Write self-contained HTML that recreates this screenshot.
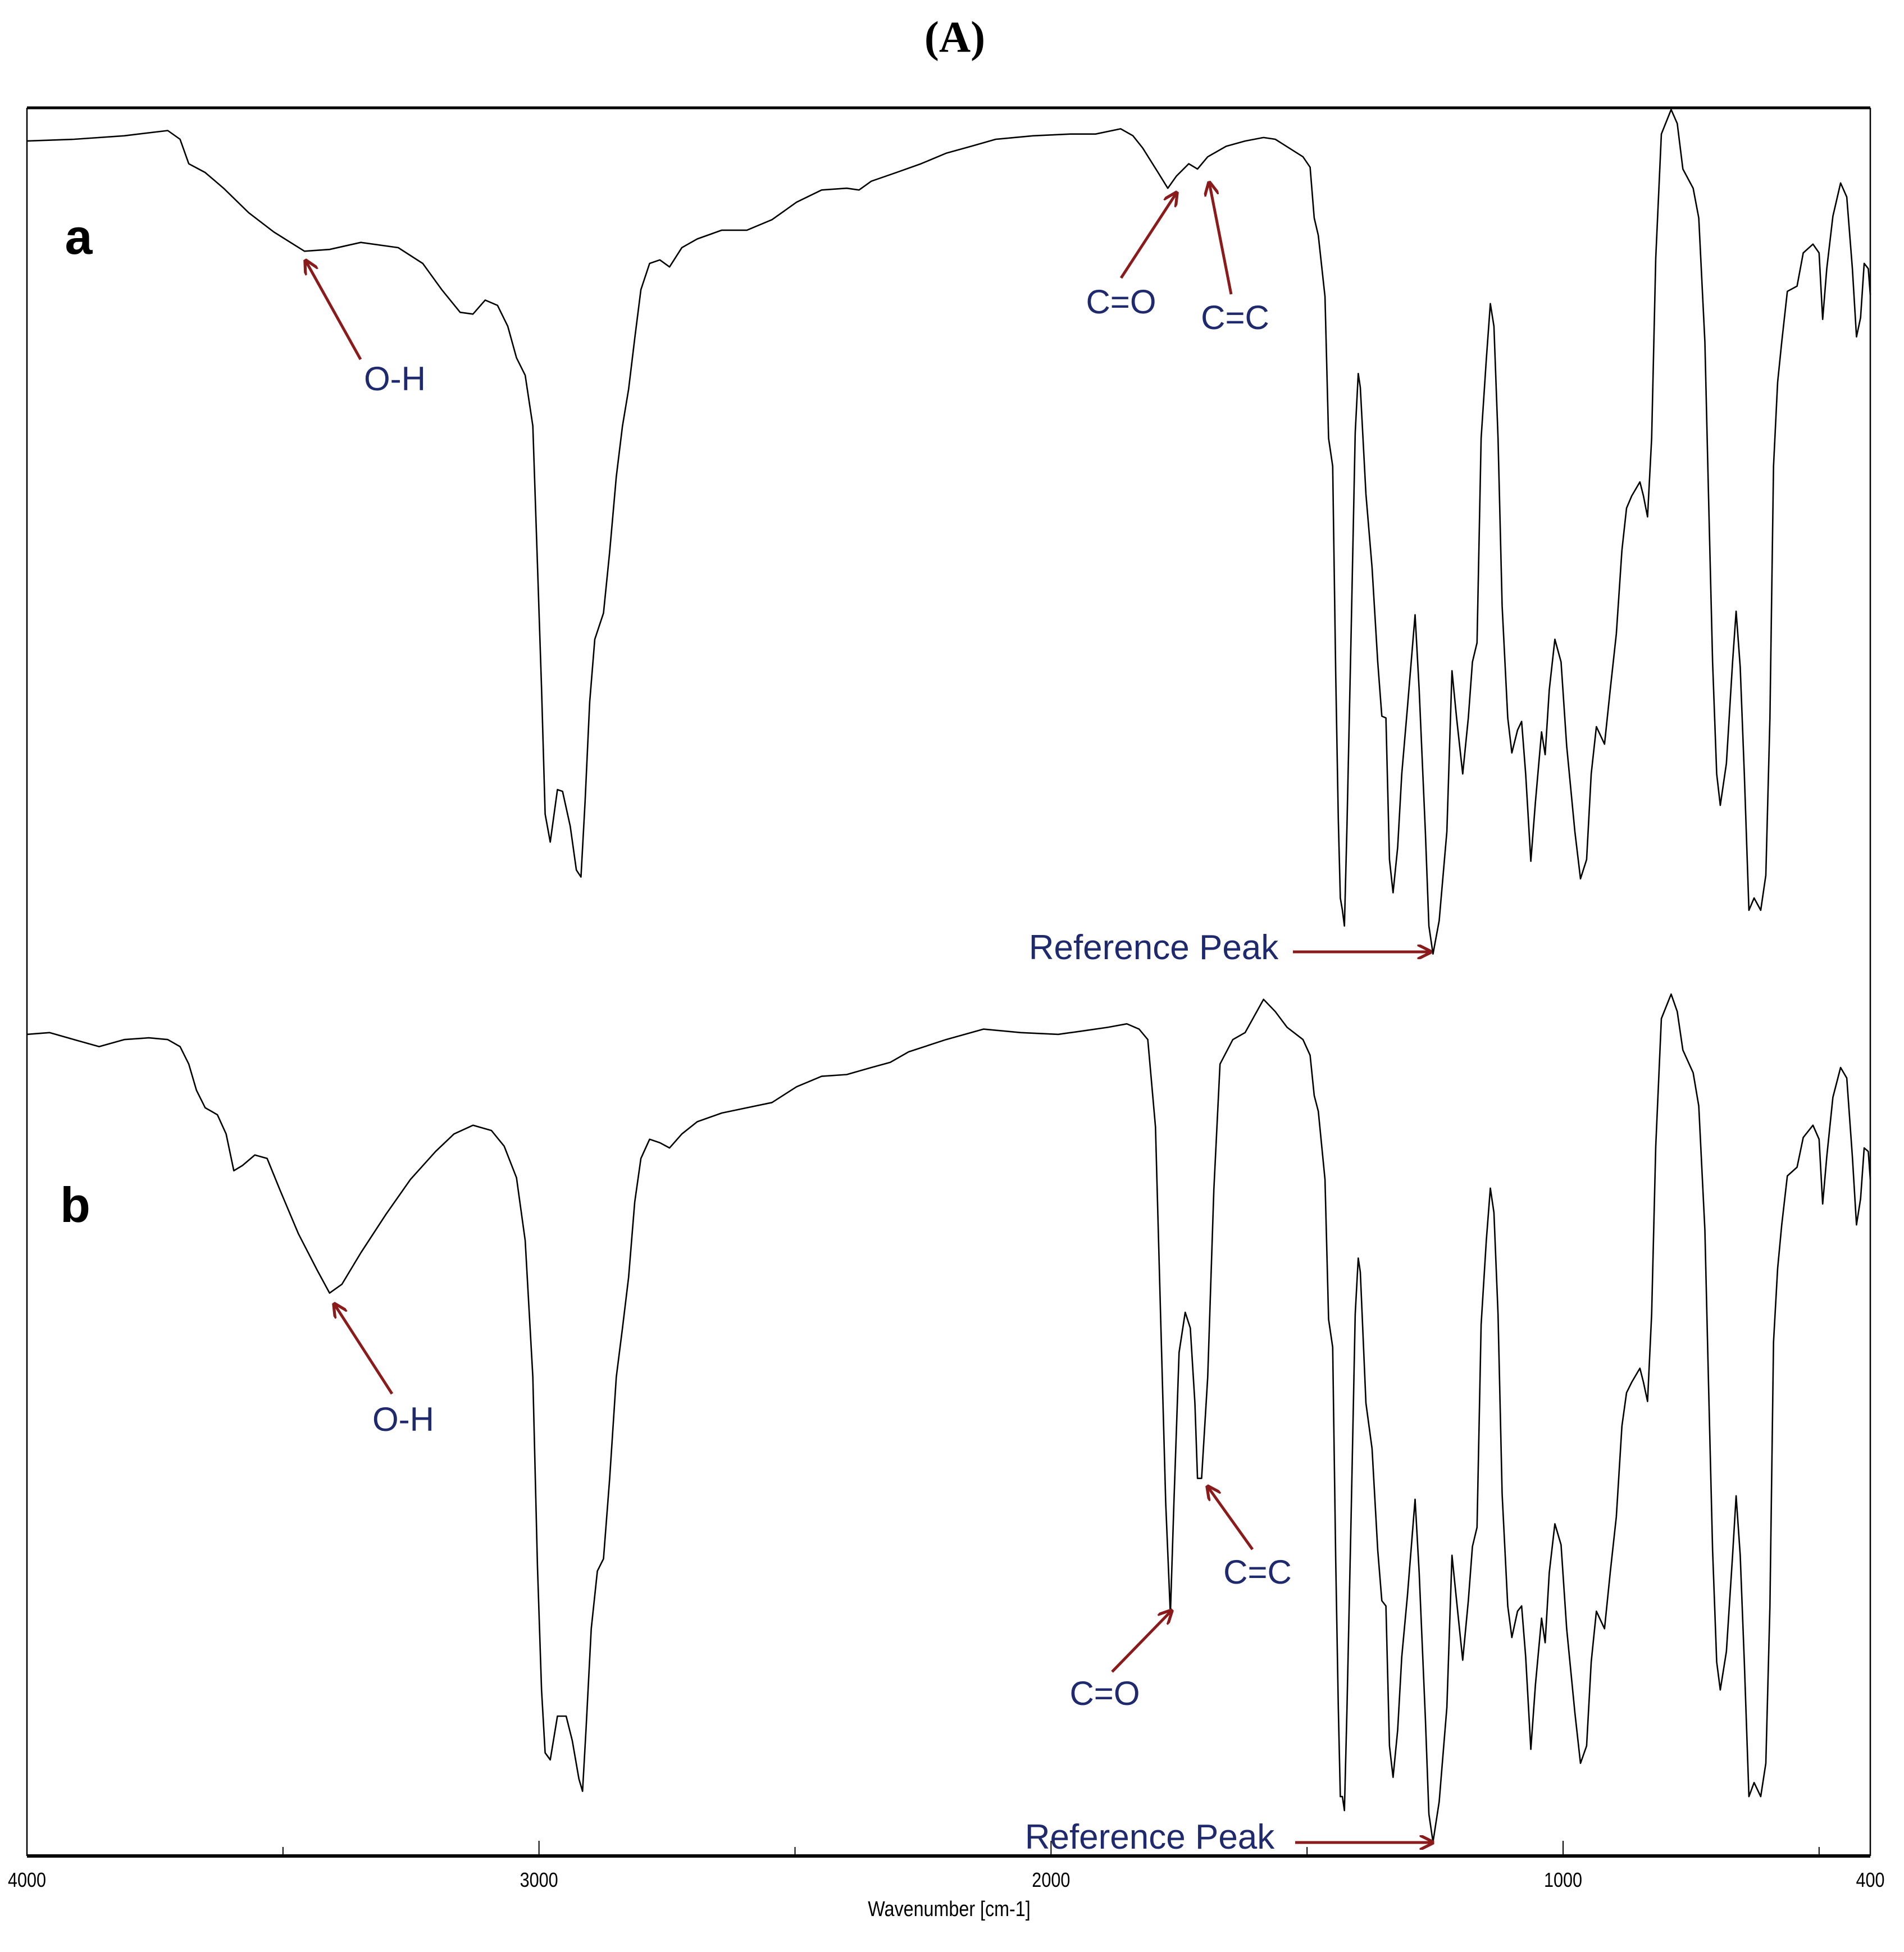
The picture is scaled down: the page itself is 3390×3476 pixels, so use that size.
<!DOCTYPE html>
<html><head><meta charset="utf-8"><style>
html,body{margin:0;padding:0;background:#fff}
svg{display:block}
</style></head><body>
<svg id="chart" width="3390" height="3476" viewBox="0 0 3390 3476" xmlns="http://www.w3.org/2000/svg">
<rect x="0" y="0" width="3390" height="3476" fill="#fff"/>
<text x="1700" y="92" text-anchor="middle" font-family="Liberation Serif, serif" font-weight="bold" font-size="78">(A)</text>
<g id="frame"></g>
<g id="series"></g>
<g id="annot"></g>
</svg>
<script>
const xTickValues=[4000,3500,3000,2500,2000,1500,1000,500];
const xTickLabels=["4000","3000","2000","1000","400"];
const xLabelValues=[4000,3000,2000,1000,400];
const wnA=[4000,3908,3810,3725,3701,3684,3652,3616,3567,3518,3458,3409,3348,3275,3227,3190,3154,3129,3105,3081,3061,3044,3027,3012,3003,2995,2988,2978,2964,2954,2939,2927,2918,2910,2901,2891,2874,2862,2849,2837,2825,2813,2801,2784,2764,2745,2721,2691,2643,2594,2545,2497,2448,2399,2375,2351,2302,2254,2205,2156,2108,2035,1962,1913,1864,1840,1821,1791,1772,1755,1731,1714,1694,1658,1621,
1585,1562,1508,1494,1486,1478,1465,1458,1450,1444,1439,1435,1431,1427,1422,1414,1406,1400,1396,1385,1373,1362,1354,1346,1339,1332,1323,1315,1304,1289,1281,1269,1262,1254,1242,1227,1217,1208,1196,1185,1177,1168,1160,1150,1142,1135,1127,1119,1108,1100,1089,1081,1073,1063,1054,1042,1035,1027,1016,1004,993,977,966,954,945,935,919,908,896,885,876,866,850,843,835,827,819,808,789,777,766,746,735,723,716,708,700,693,681,669,662,654,646,637,627,614,604,596,589,581,573,562,543,531,512,500,493,485,473,458,446,435,427,419,412,404,400];
const tA=[98.1,98.2,98.4,98.7,98.2,96.8,96.3,95.4,94.0,92.9,91.8,91.9,92.3,92.0,91.1,89.6,88.3,88.2,89.0,88.7,87.5,85.7,84.7,81.8,73.9,66.8,59.6,58.0,61.0,60.9,58.9,56.4,56.0,60.3,66.0,69.6,71.1,74.6,78.9,81.8,83.9,86.8,89.6,91.1,91.3,90.9,92.0,92.5,93.0,93.0,93.6,94.6,95.3,95.4,95.3,95.8,96.3,96.8,97.4,97.8,98.2,98.4,98.5,98.5,98.8,98.4,97.7,96.3,95.4,96.1,96.8,96.5,97.2,97.8,98.1,
98.3,98.2,97.2,96.6,93.7,92.7,89.2,81.1,79.5,67.6,59.3,54.8,54.1,53.2,59.0,69.9,81.4,84.8,84.0,77.9,73.7,68.3,65.2,65.1,57.0,55.1,57.7,61.9,65.7,71.0,66.7,58.6,53.2,51.6,53.5,58.6,67.8,65.1,61.9,65.1,68.3,69.4,81.1,85.6,88.8,87.5,81.1,71.5,65.1,63.1,64.4,64.9,61.9,56.9,60.3,64.3,63.0,66.7,69.6,68.3,63.5,58.6,55.9,57.0,61.9,64.6,63.6,66.7,69.9,74.7,77.1,77.8,78.6,77.8,76.6,81.1,91.4,98.5,99.9,99.1,96.5,95.4,93.7,86.6,77.9,68.3,61.9,60.1,62.5,68.3,71.2,68.0,61.9,54.1,54.8,54.1,56.1,65.1,79.5,84.3,86.6,89.5,89.8,91.7,92.2,91.7,87.9,90.8,93.8,95.7,94.9,90.8,86.9,88.0,91.1,90.8,89.3];
const wnB=[4000,3956,3908,3859,3810,3762,3725,3701,3684,3669,3652,3628,3611,3596,3579,3555,3531,3506,3470,3433,3409,3385,3348,3299,3251,3202,3166,3129,3093,3068,3044,3027,3012,3003,2995,2988,2978,2964,2947,2935,2922,2915,2908,2898,2886,2874,2862,2849,2837,2825,2813,2801,2784,2764,2745,2721,2691,2643,2594,2545,2497,2448,2399,2351,2314,2278,2205,2132,2059,1986,1937,1889,1852,1828,1811,1796,1786,1776,1767,1760,1750,1738,1728,1719,1714,1706,1694,1682,1670,1645,1621,
1585,1562,1539,1508,1494,1486,1478,1465,1458,1450,1444,1439,1435,1431,1427,1422,1414,1406,1400,1396,1385,1373,1362,1354,1346,1339,1332,1323,1315,1304,1289,1281,1269,1262,1254,1242,1227,1217,1208,1196,1185,1177,1168,1160,1150,1142,1135,1127,1119,1108,1100,1089,1081,1073,1063,1054,1042,1035,1027,1016,1004,993,977,966,954,945,935,919,908,896,885,876,866,850,843,835,827,819,808,789,777,766,746,735,723,716,708,700,693,681,669,662,654,646,637,627,614,604,596,589,581,573,562,543,531,512,500,493,485,473,458,446,435,427,419,412,404,400];
const tB=[47.0,47.1,46.7,46.3,46.7,46.8,46.7,46.3,45.3,43.8,42.8,42.4,41.3,39.2,39.5,40.1,39.9,38.1,35.6,33.5,32.2,32.7,34.5,36.7,38.7,40.3,41.3,41.8,41.5,40.6,38.8,35.2,27.4,16.6,9.5,5.9,5.5,8.0,8.0,6.6,4.4,3.7,7.3,13.0,16.3,17.0,21.6,27.4,30.2,33.1,37.4,39.9,41.0,40.8,40.5,41.3,42.0,42.5,42.8,43.1,44.0,44.6,44.7,45.1,45.4,46.0,46.7,47.3,47.1,47.0,47.2,47.4,47.6,47.3,46.7,41.7,30.9,20.2,13.8,20.2,28.8,31.1,30.2,25.9,21.6,21.6,27.4,38.1,45.3,46.7,47.1,
49.0,48.3,47.4,46.7,45.8,43.5,42.6,38.7,30.7,29.1,16.9,8.5,3.4,3.4,2.6,8.5,19.4,31.0,34.2,33.4,25.9,23.3,17.5,14.6,14.3,6.3,4.5,7.2,11.4,14.9,20.4,16.2,7.9,2.4,0.8,3.1,8.5,17.2,14.6,11.2,14.6,17.7,18.8,30.4,35.2,38.2,36.8,31.0,20.7,14.3,12.5,14.0,14.3,11.4,6.1,9.8,13.6,12.2,16.2,19.0,17.8,13.0,8.2,5.3,6.3,11.1,14.0,13.0,16.2,19.4,24.6,26.5,27.1,27.9,27.1,26.0,31.0,40.6,47.9,49.3,48.3,46.1,44.8,42.9,35.8,27.1,17.5,11.1,9.5,11.7,17.2,20.6,17.2,11.1,3.4,4.2,3.4,5.3,14.3,29.4,33.6,36.1,38.9,39.4,41.1,41.8,41.0,37.3,40.0,43.4,45.1,44.5,40.0,36.1,37.6,40.5,40.3,38.7];

const PL=48,PR=3330,PT=192,PB=3305;
function xs(w){return PL+(4000-w)/3600*(PR-PL);}
function ys(v){return PB-v/100*(PB-PT);}
const NS='http://www.w3.org/2000/svg';
function el(tag,attrs,parent){const e=document.createElementNS(NS,tag);for(const k in attrs)e.setAttribute(k,attrs[k]);parent.appendChild(e);return e;}
const frameG=document.getElementById('frame');
const seriesG=document.getElementById('series');
const annotG=document.getElementById('annot');

const topBorder=el('line',{x1:PL,y1:PT,x2:PR,y2:PT,stroke:'#000','stroke-width':5},frameG);


const leftBorder=el('line',{x1:PL,y1:PT,x2:PL,y2:PB,stroke:'#000','stroke-width':2.5},frameG);


const rightBorder=el('line',{x1:PR,y1:PT,x2:PR,y2:PB,stroke:'#000','stroke-width':2.5},frameG);


const xAxisLine=el('line',{x1:PL,y1:PB,x2:PR,y2:PB,stroke:'#000','stroke-width':6},frameG);


xTickValues.forEach(function(w){
  const major=(w%1000===0);
  const t=el('line',{x1:xs(w),y1:PB,x2:xs(w),y2:PB-(major?27:16),stroke:'#000','stroke-width':2},frameG);
  
  
});
xLabelValues.forEach(function(w,i){
  const cx=xs(w);
  const t=el('text',{x:cx,y:3360,'text-anchor':'middle','font-family':'Liberation Sans, sans-serif','font-size':36,transform:'translate('+cx+' 0) scale(0.85 1) translate('+(-cx)+' 0)'},frameG);
  t.textContent=xTickLabels[i];
  
  
});
const xTitle=el('text',{x:1690,y:3412,'text-anchor':'middle','font-family':'Liberation Sans, sans-serif','font-size':38,transform:'translate(1690 0) scale(0.85 1) translate(-1690 0)'},frameG);
xTitle.textContent='Wavenumber [cm-1]';



function pathD(w,t){return w.map(function(v,i){return (i?'L':'M')+xs(v).toFixed(1)+' '+ys(t[i]).toFixed(1);}).join(' ');}
const pa=el('path',{d:pathD(wnA,tA),fill:'none',stroke:'#000','stroke-width':2.6,'stroke-linejoin':'round'},seriesG);


const pb=el('path',{d:pathD(wnB,tB),fill:'none',stroke:'#000','stroke-width':2.6,'stroke-linejoin':'round'},seriesG);



const defs=el('defs',{},annotG);
const mk=el('marker',{id:'ah',markerWidth:26,markerHeight:26,refX:9,refY:5,orient:'auto',markerUnits:'userSpaceOnUse',viewBox:'0 0 10 10'},defs);
el('path',{d:'M0 0 L10 5 L0 10',fill:'none',stroke:'#8b1a1a','stroke-width':2},mk);

function arrow(name,x1,y1,x2,y2){
  const a=el('line',{x1:x1,y1:y1,x2:x2,y2:y2,stroke:'#8b1a1a','stroke-width':5,'marker-end':'url(#ah)'},annotG);
  
  
}
function label(name,txt,x,y,size,fill,bold){
  const t=el('text',{x:x,y:y,'text-anchor':'middle','font-family':'Liberation Sans, sans-serif','font-size':size,fill:fill||'#1f2a6e','font-weight':bold?'bold':'normal'},annotG);
  t.textContent=txt;
  
  
}
label('panel-label-a','a',140,452,88,'#000',true);
label('panel-label-b','b',134,2176,88,'#000',true);
label('oh-label-a','O-H',703,695,60);
arrow('oh-arrow-a',642,640,544,464);
label('co-label-a','C=O',1996,558,60);
arrow('co-arrow-a',1996,495,2095,343);
label('cc-label-a','C=C',2199,586,60);
arrow('cc-arrow-a',2192,524,2153,325);
label('reference-peak-label-a','Reference Peak',2054,1708,62);
arrow('reference-peak-arrow-a',2302,1695,2547,1695);
label('oh-label-b','O-H',718,2548,60);
arrow('oh-arrow-b',698,2482,595,2322);
label('co-label-b','C=O',1967,3036,60);
arrow('co-arrow-b',1980,2977,2086,2868);
label('cc-label-b','C=C',2239,2820,60);
arrow('cc-arrow-b',2230,2759,2150,2647);
label('reference-peak-label-b','Reference Peak',2047,3292,62);
arrow('reference-peak-arrow-b',2306,3281,2551,3281);
</script>
</body></html>
